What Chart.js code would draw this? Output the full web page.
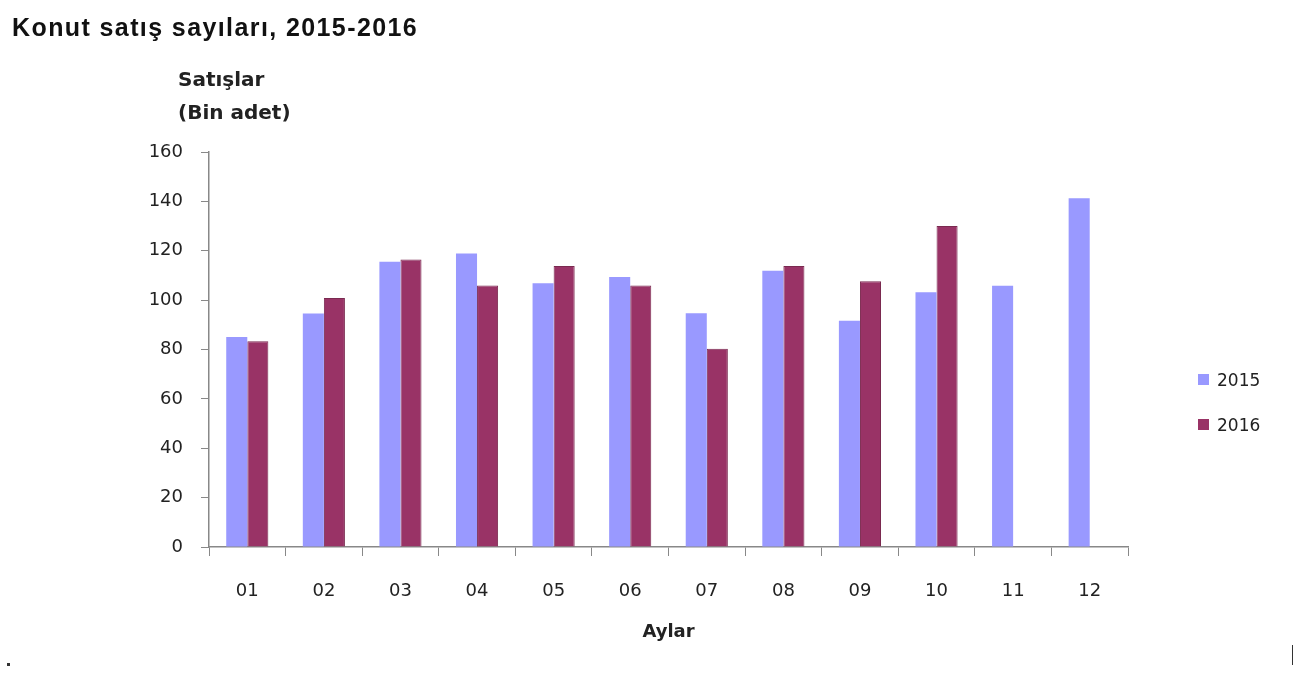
<!DOCTYPE html>
<html>
<head>
<meta charset="utf-8">
<script src="https://cdn.jsdelivr.net/npm/chart.js@4"></script>
<style>
  html, body { margin: 0; padding: 0; background: #fff; }
  #wrap { position: relative; width: 1298px; height: 675px; overflow: hidden; }
  canvas { position: absolute; left: 0; top: 0; }
  .baslik { position: absolute; left: 12px; top: 13px; font: bold 25px "Liberation Sans", Arial, sans-serif; letter-spacing: 1.4px; color: #111; }
  .eksen { position: absolute; left: 178px; top: 63px; font: bold 20px "DejaVu Sans", sans-serif; color: #222; line-height: 33px; }
  #legend { position: absolute; left: 1198px; top: 357px; font: 17px "DejaVu Sans", sans-serif; color: #222; }
  #legend div { height: 45px; display: flex; align-items: center; }
  #legend span.kutu { display: inline-block; width: 11px; height: 11px; margin-right: 8px; }
  .nokta { position: absolute; left: 7px; top: 663px; width: 3px; height: 3px; background: #333; }
  .cizgi { position: absolute; left: 1292px; top: 645px; width: 1px; height: 20px; background: #333; }
</style>
</head>
<body>
<div id="wrap">
  <canvas id="grafik" width="1298" height="675"></canvas>
  <div class="baslik">Konut satış sayıları, 2015-2016</div>
  <div class="eksen">Satışlar<br>(Bin adet)</div>
  <div id="legend"></div>
  <div class="nokta"></div>
  <div class="cizgi"></div>
</div>
<script>
// VERI
const aylar = ['01', '02', '03', '04', '05', '06', '07', '08', '09', '10', '11', '12'];
const satis2015 = [85.1, 94.6, 115.5, 118.9, 106.8, 109.4, 94.7, 111.9, 91.6, 103.2, 105.8, 141.3];
const satis2016 = [83.3, 100.9, 116.5, 105.9, 113.8, 105.9, 80.3, 113.8, 107.6, 130.0, null, null];
const yillar = ['2015', '2016'];
const renkler = ['#9999ff', '#993366'];
const yTicks = [0, 20, 40, 60, 80, 100, 120, 140, 160];

const eksenRenk = '#888';
const yaziFont = { family: '"DejaVu Sans", sans-serif', size: 18 };

const chart = new Chart(document.getElementById('grafik'), {
  type: 'bar',
  data: {
    labels: aylar,
    datasets: [
      {
        label: yillar[0],
        data: satis2015,
        backgroundColor: renkler[0],
        borderWidth: 0,
        categoryPercentage: 0.55,
        barPercentage: 1
      },
      {
        label: yillar[1],
        data: satis2016,
        backgroundColor: renkler[1],
        borderColor: '#7a2a50',
        borderWidth: 1,
        categoryPercentage: 0.55,
        barPercentage: 1
      }
    ]
  },
  options: {
    responsive: false,
    animation: false,
    layout: { padding: { top: 152, right: 170, left: 0, bottom: 0 } },
    plugins: {
      legend: { display: false },
      tooltip: { enabled: false }
    },
    scales: {
      x: {
        grid: { drawOnChartArea: false, drawTicks: true, tickLength: 9, color: eksenRenk, offset: true },
        border: { color: eksenRenk, width: 1.5 },
        ticks: { font: yaziFont, color: '#222', padding: 25 },
        title: {
          display: true,
          text: 'Aylar',
          font: { family: '"DejaVu Sans", sans-serif', size: 18, weight: 'bold' },
          color: '#222',
          padding: { top: 0, bottom: 32 }
        },
        afterFit: scale => { scale.height = 128; }
      },
      y: {
        min: 0,
        max: 160,
        afterBuildTicks: scale => { scale.ticks = yTicks.map(v => ({ value: v })); },
        grid: { drawOnChartArea: false, drawTicks: true, tickLength: 8, color: eksenRenk },
        border: { color: eksenRenk, width: 1.5 },
        ticks: { font: yaziFont, color: '#222', padding: 18 },
        afterFit: scale => { scale.width = 209; }
      }
    }
  }
});

// Legend
const legend = document.getElementById('legend');
yillar.forEach((yil, i) => {
  const satir = document.createElement('div');
  satir.innerHTML = `<span class="kutu" style="background:${renkler[i]}"></span>${yil}`;
  legend.appendChild(satir);
});
</script>
</body>
</html>
